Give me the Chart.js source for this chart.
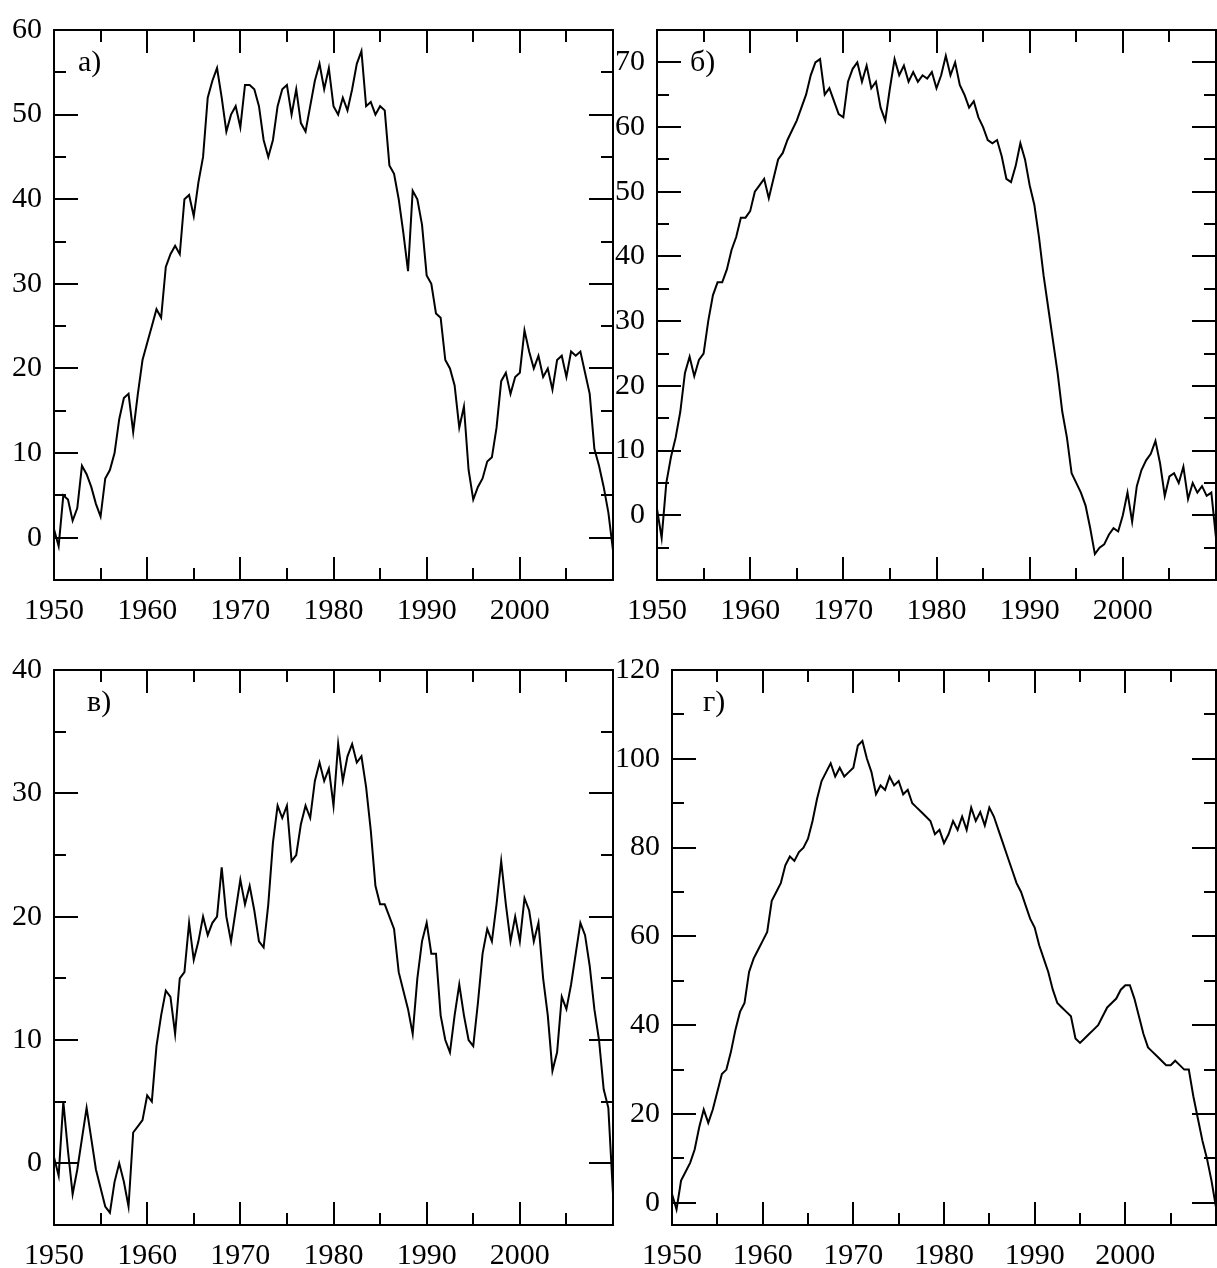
<!DOCTYPE html>
<html>
<head>
<meta charset="utf-8">
<script src="https://cdn.jsdelivr.net/npm/chart.js@4.4.0/dist/chart.umd.min.js"></script>
<style>
  html, body { margin:0; padding:0; background:#fff; }
  #wrap { position:relative; width:1217px; height:1268px; overflow:hidden; }
  canvas { position:absolute; }
</style>
</head>
<body>
<div id="wrap">
  <canvas id="pa" width="640" height="640" style="left:0;top:0"></canvas>
  <canvas id="pb" width="617" height="640" style="left:600px;top:0"></canvas>
  <canvas id="pc" width="640" height="628" style="left:0;top:640px"></canvas>
  <canvas id="pd" width="617" height="628" style="left:600px;top:640px"></canvas>
</div>
<script>
// half-year sampling of the four curves
const years = [
  1950,1950.5,1951,1951.5,1952,1952.5,1953,1953.5,1954,1954.5,1955,1955.5,1956,1956.5,1957,1957.5,1958,1958.5,1959,1959.5,
  1960,1960.5,1961,1961.5,1962,1962.5,1963,1963.5,1964,1964.5,1965,1965.5,1966,1966.5,1967,1967.5,1968,1968.5,1969,1969.5,
  1970,1970.5,1971,1971.5,1972,1972.5,1973,1973.5,1974,1974.5,1975,1975.5,1976,1976.5,1977,1977.5,1978,1978.5,1979,1979.5,
  1980,1980.5,1981,1981.5,1982,1982.5,1983,1983.5,1984,1984.5,1985,1985.5,1986,1986.5,1987,1987.5,1988,1988.5,1989,1989.5,
  1990,1990.5,1991,1991.5,1992,1992.5,1993,1993.5,1994,1994.5,1995,1995.5,1996,1996.5,1997,1997.5,1998,1998.5,1999,1999.5,
  2000,2000.5,2001,2001.5,2002,2002.5,2003,2003.5,2004,2004.5,2005,2005.5,2006,2006.5,2007,2007.5,2008,2008.5,2009,2009.5,
  2010
];
const seriesA = [
  1,-1,5,4.5,2,3.5,8.5,7.5,6,4, 2.5,7,8,10,14,16.5,17,12.5,17,21,
  23,25,27,26,32,33.5,34.5,33.5,40,40.5, 38,42,45,52,54,55.5,52,48,50,51,
  48.5,53.5,53.5,53,51,47,45,47,51,53, 53.5,50,53,49,48,51,54,56,53,55.5,
  51,50,52,50.5,53,56,57.5,51,51.5,50, 51,50.5,44,43,40,36,31.5,41,40,37,
  31,30,26.5,26,21,20,18,13,15.5,8, 4.5,6,7,9,9.5,13,18.5,19.5,17,19,
  19.5,24.5,22,20,21.5,19,20,17.5,21,21.5, 19,22,21.5,22,19.5,17,10.5,8.5,6,3,
  -1.5
];
const seriesB = [
  1,-3.5,5,9,12,16,22,24.5,21.5,24, 25,30,34,36,36,38,41,43,46,46,
  47,50,51,52,49,52,55,56,58,59.5, 61,63,65,68,70,70.5,65,66,64,62,
  61.5,67,69,70,67,69.5,66,67,63,61, 66,70.5,68,69.5,67,68.5,67,68,67.5,68.5,
  66,68,71,68,70,66.5,65,63,64,61.5, 60,58,57.5,58,55.5,52,51.5,54,57.5,55,
  51,48,43,37,32,27,22,16,12,6.5, 5,3.5,1.5,-2,-6,-5,-4.5,-3,-2,-2.5,
  0,3.5,-1,4.5,7,8.5,9.5,11.5,8,3, 6,6.5,5,7.5,2.5,5,3.5,4.5,3,3.5,
  -3.5
];
const seriesC = [
  0.5,-1,5,1,-2.5,-0.5,2,4.5,2,-0.5, -2,-3.5,-4,-1.5,0,-1.5,-3.5,2.5,3,3.5,
  5.5,5,9.5,12,14,13.5,10.5,15,15.5,19.5, 16.5,18,20,18.5,19.5,20,24,20,18,20.5,
  23,21,22.5,20.5,18,17.5,21,26,29,28, 29,24.5,25,27.5,29,28,31,32.5,31,32,
  29,34,31,33,34,32.5,33,30.5,27,22.5, 21,21,20,19,15.5,14,12.5,10.5,15,18,
  19.5,17,17,12,10,9,12,14.5,12,10, 9.5,13,17,19,18,21,24.5,21,18,20,
  18,21.5,20.5,18,19.5,15,12,7.5,9,13.5, 12.5,14.5,17,19.5,18.5,16,12.5,10,6,4.5,
  -2.5
];
const seriesD = [
  2,-1.5,5,7,9,12,17,21,18,21, 25,29,30,34,39,43,45,52,55,57,
  59,61,68,70,72,76,78,77,79,80, 82,86,91,95,97,99,96,98,96,97,
  98,103,104,100,97,92,94,93,96,94, 95,92,93,90,89,88,87,86,83,84,
  81,83,86,84,87,84,89,86,88,85, 89,87,84,81,78,75,72,70,67,64,
  62,58,55,52,48,45,44,43,42,37, 36,37,38,39,40,42,44,45,46,48,
  49,49,46,42,38,35,34,33,32,31, 31,32,31,30,30,24,19,14,10,5,
  -1
];
const xLabels  = [1950, 1960, 1970, 1980, 1990, 2000];
const yLabelsA = [0, 10, 20, 30, 40, 50, 60];
const yLabelsB = [0, 10, 20, 30, 40, 50, 60, 70];
const yLabelsC = [0, 10, 20, 30, 40];
const yLabelsD = [0, 20, 40, 60, 80, 100, 120];
const panelNames = ["а)", "б)", "в)", "г)"];

const FONT = "'Liberation Serif', 'Times New Roman', serif";
Chart.defaults.font.family = FONT;
Chart.defaults.font.size = 30;
Chart.defaults.color = "#000";

// box round the plot + inward ticks on all four sides
const frameTicks = {
  id: "frameTicks",
  afterDatasetsDraw(chart, args, o){
    const { ctx, chartArea: a, scales: { x, y } } = chart;
    ctx.save();
    ctx.strokeStyle = "#000";
    ctx.lineWidth = 2;
    ctx.strokeRect(a.left, a.top, a.right - a.left, a.bottom - a.top);
    ctx.beginPath();
    for (let v = x.min; v <= x.max; v += 5){
      const px = Math.round(x.getPixelForValue(v));
      const len = v % 10 === 0 ? 23 : 12;
      ctx.moveTo(px, a.bottom); ctx.lineTo(px, a.bottom - len);
      ctx.moveTo(px, a.top);    ctx.lineTo(px, a.top + len);
    }
    for (let v = Math.ceil(y.min / o.minor) * o.minor; v <= y.max; v += o.minor){
      const py = Math.round(y.getPixelForValue(v));
      const len = v % o.major === 0 ? 24 : 12;
      ctx.moveTo(a.left, py);  ctx.lineTo(a.left + len, py);
      ctx.moveTo(a.right, py); ctx.lineTo(a.right - len, py);
    }
    ctx.stroke();
    ctx.font = "30px " + FONT;
    ctx.fillStyle = "#000";
    ctx.textBaseline = "alphabetic";
    ctx.fillText(o.name, a.left + o.dx, a.top + 41);
    ctx.restore();
  }
};

function panel(id, series, yMin, yMax, yLabels, minor, major, name, dx, pad, yw, xh){
  return new Chart(document.getElementById(id), {
    type: "line",
    data: { datasets: [{
      data: years.map((t, i) => ({ x: t, y: series[i] })),
      borderColor: "#000", borderWidth: 2, pointRadius: 0, tension: 0, fill: false
    }] },
    options: {
      responsive: false, animation: false, events: [],
      layout: { padding: pad },
      plugins: { legend: { display: false }, tooltip: { enabled: false },
                 frameTicks: { minor, major, name, dx } },
      scales: {
        x: { type: "linear", min: 1950, max: 2010,
             grid: { display: false, drawTicks: false }, border: { display: false },
             afterBuildTicks: s => { s.ticks = xLabels.map(v => ({ value: v })); },
             afterFit: s => { s.height = xh; },
             ticks: { padding: 13, maxRotation: 0, autoSkip: false, callback: v => String(v) } },
        y: { type: "linear", min: yMin, max: yMax,
             grid: { display: false, drawTicks: false }, border: { display: false },
             afterBuildTicks: s => { s.ticks = yLabels.map(v => ({ value: v })); },
             afterFit: s => { s.width = yw; },
             ticks: { padding: 12, autoSkip: false, callback: v => String(v) } }
      }
    },
    plugins: [frameTicks]
  });
}

panel("pa", seriesA, -5, 60,  yLabelsA, 5, 10, panelNames[0], 24, { top:21, right:27, left:0, bottom:0 }, 54, 60);
panel("pb", seriesB, -10, 75, yLabelsB, 5, 10, panelNames[1], 33, { top:22, right:1,  left:0, bottom:0 }, 57, 60);
panel("pc", seriesC, -5, 40,  yLabelsC, 5, 10, panelNames[2], 33, { top:24, right:27, left:0, bottom:0 }, 54, 43);
panel("pd", seriesD, -5, 120, yLabelsD, 10, 20, panelNames[3], 31, { top:24, right:1,  left:0, bottom:0 }, 72, 43);
</script>
</body>
</html>
